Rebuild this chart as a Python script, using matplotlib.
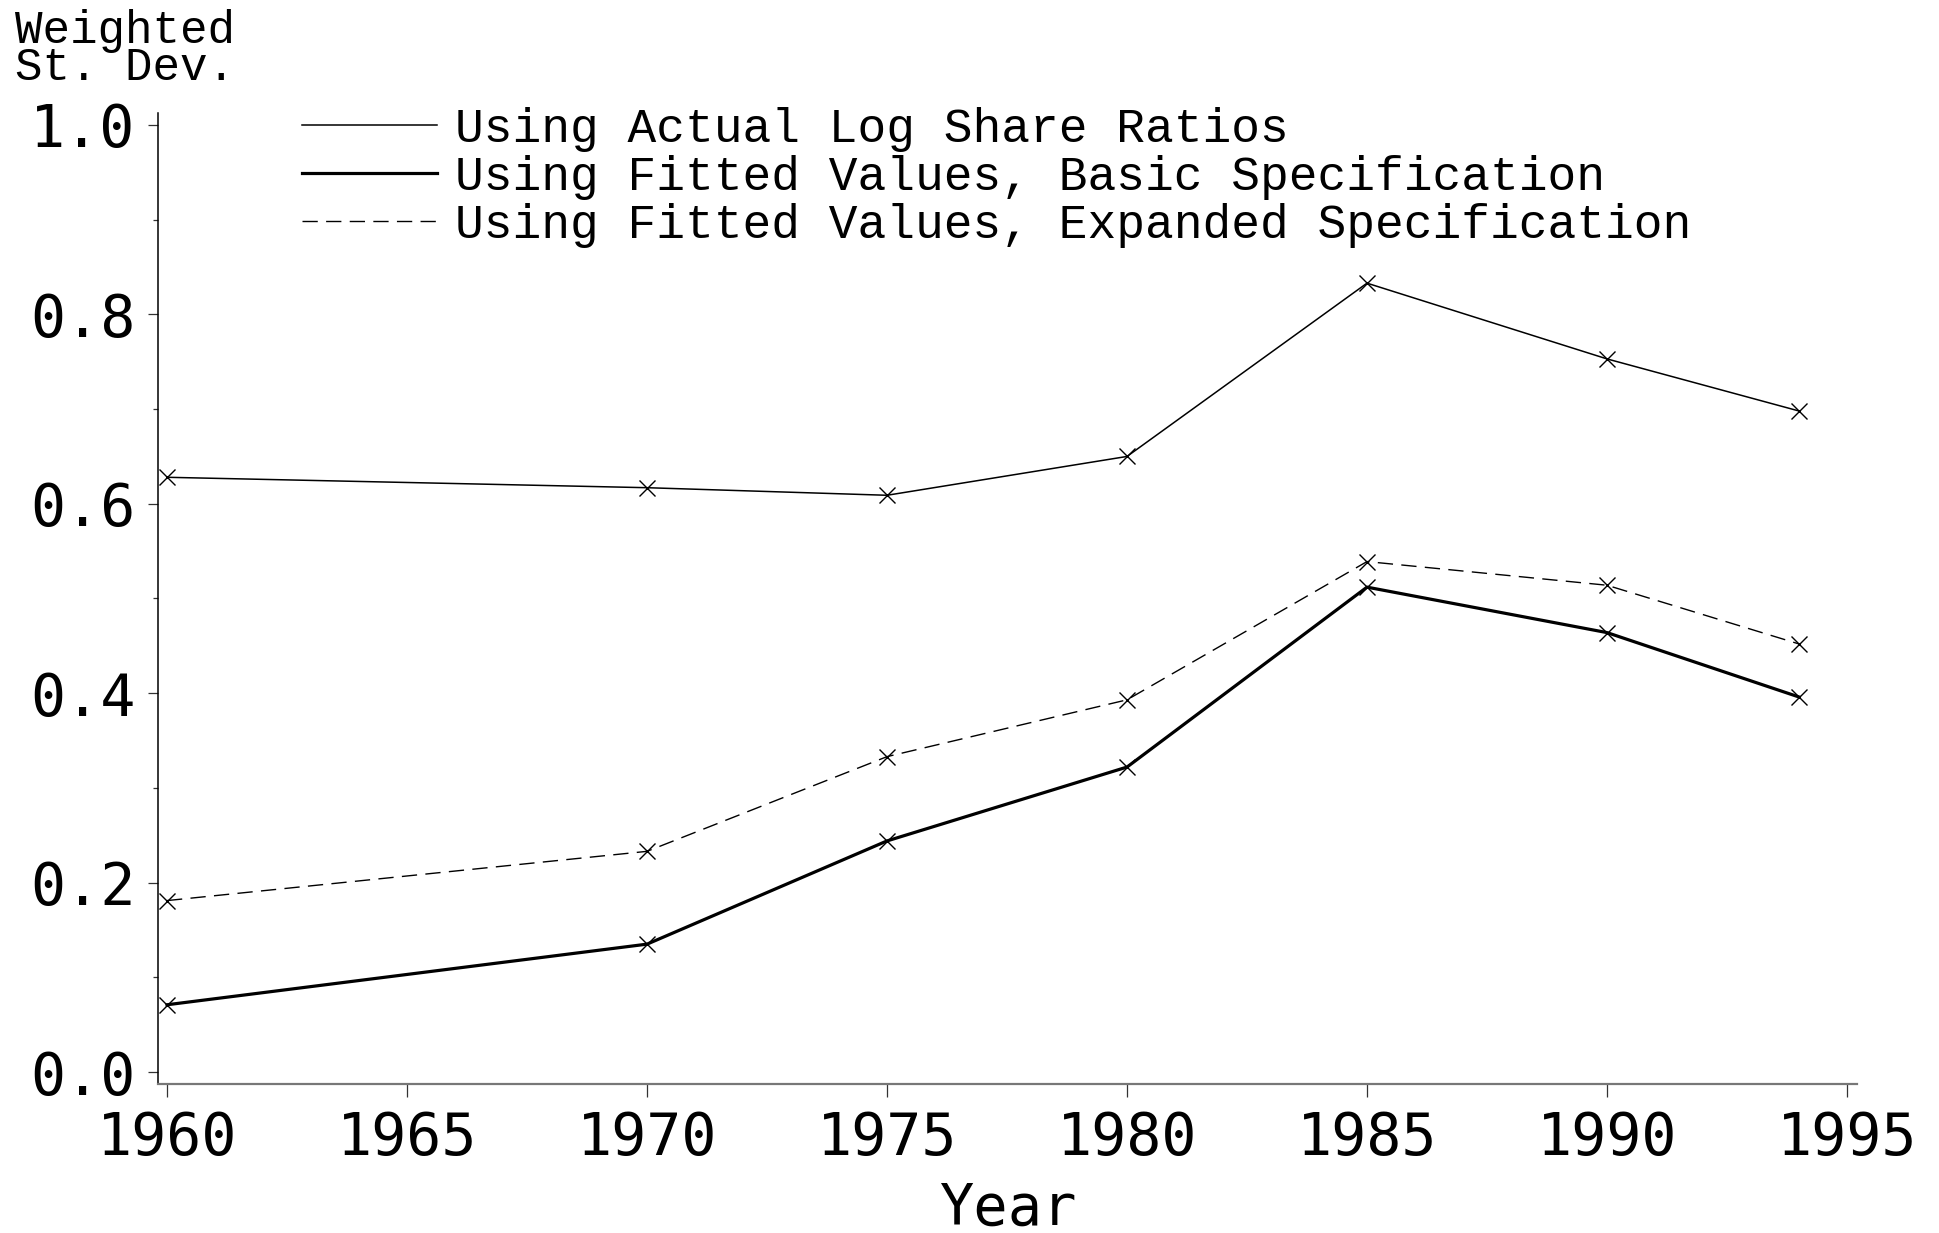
import matplotlib
matplotlib.use("Agg")
import matplotlib.pyplot as plt
from matplotlib.ticker import MultipleLocator, FuncFormatter

years = [1960, 1970, 1975, 1980, 1985, 1990, 1994]
actual = [0.628, 0.617, 0.609, 0.650, 0.833, 0.753, 0.698]
basic = [0.071, 0.135, 0.244, 0.322, 0.512, 0.464, 0.396]
expanded = [0.181, 0.233, 0.333, 0.393, 0.539, 0.514, 0.452]

labels = ["Using Actual Log Share Ratios",
          "Using Fitted Values, Basic Specification",
          "Using Fitted Values, Expanded Specification"]
xticks = [1960, 1965, 1970, 1975, 1980, 1985, 1990, 1995]
yticks = [0.0, 0.2, 0.4, 0.6, 0.8, 1.0]

W, H = 1940, 1233
fig = plt.figure(figsize=(W / 100, H / 100), dpi=100)
left, right, top, bottom = 158, 1857, 113, 1084
ax = fig.add_axes([left / W, 1 - bottom / H, (right - left) / W, (bottom - top) / H])

mono_serif = "Liberation Mono"
mono_sans = "DejaVu Sans Mono"

mk = dict(marker="x", markersize=11.5, markeredgewidth=1.0, color="black")
ax.plot(years, actual, linewidth=1.1, label=labels[0], **mk)
ax.plot(years, basic, linewidth=2.3, label=labels[1], **mk)
ax.plot(years, expanded, linewidth=1.0, dashes=(11, 6), label=labels[2], **mk)

# axis ranges
px_per_year = 48.0
ax.set_xlim(1960 - 9 / px_per_year, 1995 + 10 / px_per_year)
ax.set_ylim(-12 / 947, 1.0 + 12 / 947)

ax.set_xticks(xticks)
ax.set_yticks(yticks)
ax.yaxis.set_minor_locator(MultipleLocator(0.1))
ax.yaxis.set_major_formatter(FuncFormatter(lambda v, p: f"{v:.1f}"))

for s in ["top", "right"]:
    ax.spines[s].set_visible(False)
ax.spines["left"].set_linewidth(1.1)
ax.spines["left"].set_color("black")
ax.spines["bottom"].set_linewidth(1.6)
ax.spines["bottom"].set_color("#777777")

ax.tick_params(axis="y", which="major", direction="out", length=7, width=0.9,
               color="#333333", pad=9, labelsize=42)
ax.tick_params(axis="y", which="minor", direction="out", length=3.8, width=0.9,
               color="#333333")
ax.tick_params(axis="x", which="major", direction="out", length=9, width=0.9,
               color="#333333", pad=10, labelsize=42)
for t in ax.get_xticklabels() + ax.get_yticklabels():
    t.set_fontfamily(mono_sans)

ax.set_xlabel("Year", fontfamily=mono_sans, fontsize=41, labelpad=10)

fig.text(15 / W, 1 - 9 / H, "Weighted\nSt. Dev.", fontfamily=mono_serif,
         fontsize=33, ha="left", va="top", linespacing=0.8)

leg = ax.legend(loc="upper left", bbox_to_anchor=((302 - left) / (right - left), 1.006),
                frameon=False, prop={"family": mono_serif, "size": 34.5},
                handlelength=135 / 47.9, handletextpad=0.38, labelspacing=0.06,
                borderpad=0, borderaxespad=0)
for h in leg.get_lines():
    h.set_marker("")

fig.savefig("out.png", dpi=100)
